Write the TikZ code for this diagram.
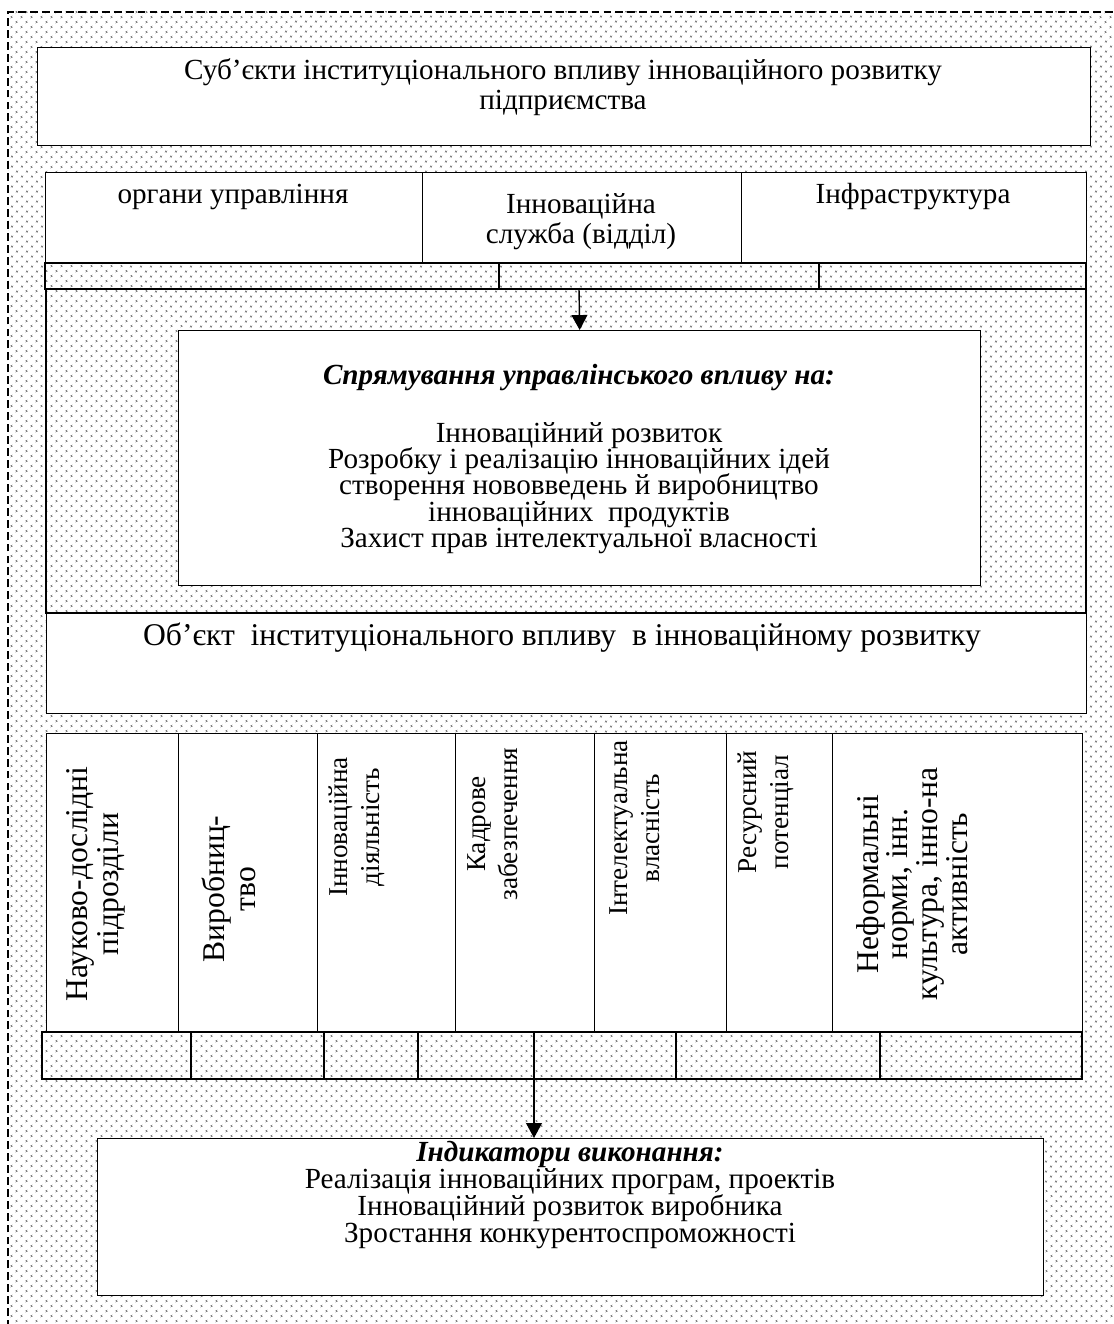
\documentclass[tikz,border=0pt]{standalone}
\usepackage{fontspec}
\setmainfont{Liberation Serif}
\usetikzlibrary{arrows.meta,patterns.meta}
\newcommand\tightskip{\setlength{\lineskiplimit}{-20pt}}

\begin{document}
\begin{tikzpicture}[x=0.02cm, y=-0.02cm,
    cell/.style 2 args={draw, fill=white, line width=0.8pt, anchor=north west,
      inner sep=0pt, minimum width=#1*0.02cm, minimum height=#2*0.02cm},
    strip/.style={draw, line width=0.8pt},
    dotbg/.style={pattern={Dots[angle=45,distance=4pt,radius=0.7pt]}, pattern color=black!50},
    txt/.style={font=\fontsize{16.6}{17}\selectfont, align=center, inner sep=0pt},
    vtxt/.style={font=\fontsize{18}{18}\selectfont, align=center, inner sep=0pt, rotate=90},
    vtxs/.style={font=\fontsize{15.5}{18}\selectfont, align=center, inner sep=0pt, rotate=90},
    arr/.style={line width=0.8pt, -{Triangle[length=8.5pt,width=9pt]}}]
        \useasboundingbox (0,0) rectangle (1113,1324);
        \clip (0,0) rectangle (1113,1324);
        % dotted background inside the dashed frame
        \fill[white] (0,0) rectangle (1113,1324);
        \fill[dotbg] (8,12) rectangle (1130,1340);
        \draw[dash pattern=on 4.5pt off 2.3pt, line width=0.6pt] (8,1340) -- (8,12) -- (1130,12);

        % subjects
        \node[cell={1053}{98}] (subj) at (37,47) {};
        \node[txt] (subjt) at (563,87) {Суб’єкти інституціонального впливу інноваційного розвитку\\підприємства};

        \node[cell={377}{91}] (organ) at (45,172) {};
        \node[cell={319}{91}] (sluzh) at (422,172) {};
        \node[cell={345}{91}] (infra) at (741,172) {};
        \node[txt] (organt) at (233,197) {органи управління};
        \node[txt] (sluzht) at (581,222) {Інноваційна\\служба (відділ)};
        \node[txt] (infrat) at (913,197) {Інфраструктура};

        % strip under the subjects
        \draw[strip] (45,263) rectangle (1086,289);
        \draw[strip] (499,263) -- (499,289);
        \draw[strip] (819,263) -- (819,289);

        % directions of the influence
        \draw[strip] (46,289) rectangle (1086,613);
        \node[cell={802}{255}] (aim) at (178,330) {};
        \node[txt, font=\fontsize{16.6}{17}\selectfont\bfseries\itshape] (aimhead) at (579,378) {Спрямування управлінського впливу на:};
        \node[txt, font=\fontsize{16.6}{15}\selectfont\tightskip] (aimbody) at (579,488) {Інноваційний розвиток\\Розробку і реалізацію інноваційних ідей\\створення нововведень й виробництво\\інноваційних\ \ продуктів\\Захист прав інтелектуальної власності};

        \node[cell={1040}{100}] (obj) at (46,613) {};
        \node[txt, font=\fontsize{18}{18}\selectfont] (objt) at (562,638) {Об’єкт\ \ інституціонального впливу\ \ в інноваційному розвитку};

        % columns of the object
        \node[cell={132}{299}] (c1) at (46,733) {};
        \node[cell={139}{299}] (c2) at (178,733) {};
        \node[cell={138}{299}] (c3) at (317,733) {};
        \node[cell={139}{299}] (c4) at (455,733) {};
        \node[cell={132}{299}] (c5) at (594,733) {};
        \node[cell={106}{299}] (c6) at (726,733) {};
        \node[cell={250}{299}] (c7) at (832,733) {};
        \node[vtxt] (c1t) at (96,884) {Науково-дослідні\\підрозділи};
        \node[vtxt] (c2t) at (229,889) {Виробниц-\\тво};
        \node[vtxs] (c3t) at (357,827) {Інноваційна\\діяльність};
        \node[vtxs] (c4t) at (493,824) {Кадрове\\забезпечення};
        \node[vtxs] (c5t) at (635,828) {Інтелектуальна\\власність};
        \node[vtxs] (c6t) at (766,812) {Ресурсний\\потенціал};
        \node[vtxt, font=\fontsize{18}{17}\selectfont] (c7t) at (912,884) {Неформальні\\норми, інн.\\культура, інно-на\\активність};

        % strip under the columns
        \draw[strip] (42,1032) rectangle (1082,1079);
        \draw[strip] (191,1032) -- (191,1079);
        \draw[strip] (324,1032) -- (324,1079);
        \draw[strip] (418,1032) -- (418,1079);
        \draw[strip] (534,1032) -- (534,1079);
        \draw[strip] (676,1032) -- (676,1079);
        \draw[strip] (880,1032) -- (880,1079);

        % indicators
        \node[cell={946}{157}] (ind) at (97,1138) {};
        \node[txt, font=\fontsize{16.6}{15.5}\selectfont\tightskip] (indt) at (570,1195) {\textbf{\textit{Індикатори виконання:}}\\Реалізація інноваційних програм, проектів\\Інноваційний розвиток виробника\\Зростання конкурентоспроможності};

        % arrows
        \coordinate (from1) at (579,289);
        \draw[arr] (from1) -- (aim.north);
        \coordinate (from2) at (534,1079);
        \draw[arr] (from2) -- (from2 |- ind.north);
\end{tikzpicture}
\end{document}
